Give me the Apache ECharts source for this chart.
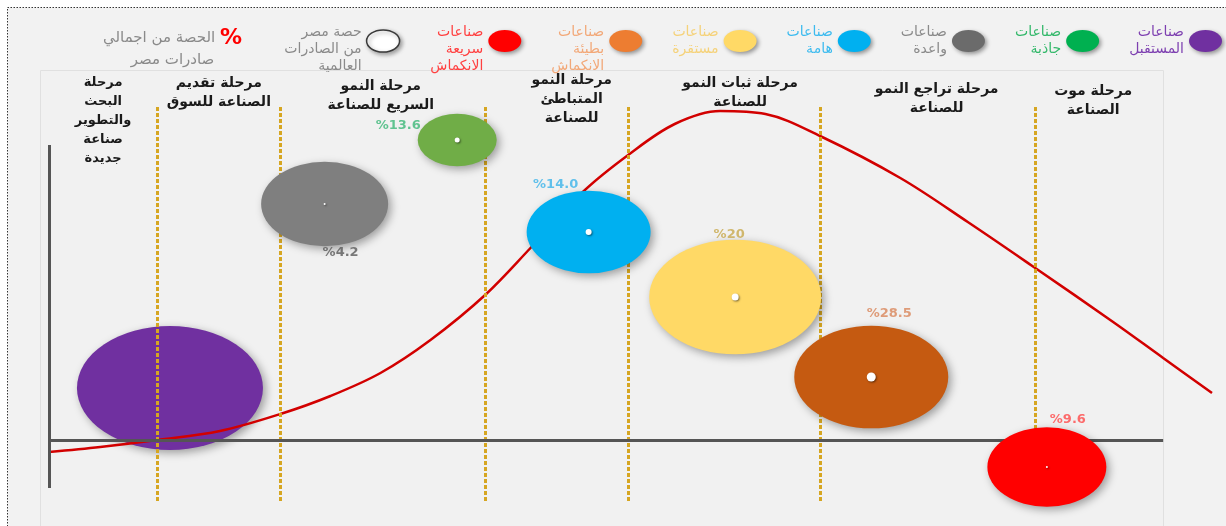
<!DOCTYPE html>
<html>
<head>
<meta charset="utf-8">
<script src="https://cdn.jsdelivr.net/npm/echarts@6/dist/echarts.min.js"></script>
<style>
  html, body { margin: 0; padding: 0; background: #fff; }
  #chart { width: 1226px; height: 526px; }
</style>
</head>
<body>
<div id="chart"></div>
<script>
// Industry groups, ordered by the life-cycle stage they sit in
const groups = [
  'صناعات المستقبل',
  'صناعات واعدة',
  'صناعات جاذبة',
  'صناعات هامة',
  'صناعات مستقرة',
  'صناعات بطيئة الانكماش',
  'صناعات سريعة الانكماش'
];
const groupLegendText = [
  'صناعات\nالمستقبل',
  'صناعات\nواعدة',
  'صناعات\nجاذبة',
  'صناعات\nهامة',
  'صناعات\nمستقرة',
  'صناعات\nبطيئة\nالانكماش',
  'صناعات\nسريعة\nالانكماش'
];
// Position of each group along the cycle (x) and its growth level (y)
const stageX = [10.4, 23.7, 35.1, 46.4, 59.0, 70.7, 85.8];
const growthY = [13, 59, 75, 52, 35.75, 15.75, -6.75];
// Relative bubble magnitude
const bubbleScale = [18.6, 12.7, 7.9, 12.4, 17.2, 15.4, 11.9];
// Egypt's share of world exports (white dot)
const worldShare = [0, 0.2, 0.5, 0.6, 0.7, 0.9, 0.2];
// Share of Egypt's total exports, as printed
const exportShareText = ['', '4.2', '13.6', '14.0', '20', '28.5', '9.6'];

// Life-cycle stages and their boundaries on the x scale
const stageNames = [
  'مرحلة\nالبحث\nوالتطوير\nصناعة\nجديدة',
  'مرحلة تقديم\nالصناعة للسوق',
  'مرحلة النمو\nالسريع للصناعة',
  'مرحلة النمو\nالمتباطئ\nللصناعة',
  'مرحلة ثبات النمو\nللصناعة',
  'مرحلة تراجع النمو\nللصناعة',
  'مرحلة موت\nالصناعة'
];
const stageBounds = [0, 9.3, 19.9, 37.5, 49.8, 66.3, 84.8, 95.8];

// Industry life-cycle curve
const curveX = [0, 4.4, 9.3, 14.7, 19.9, 24.2, 28.5, 32.8, 37.5, 41.4, 45.9, 49.8, 53.8, 57.7, 61.6, 66.3, 73.2, 79.0, 84.8, 91.5, 95.8, 100];
const curveY = [-3, -1.75, 0, 2.25, 6.5, 11, 16.75, 25, 36.25, 48, 62, 71.25, 79, 82.25, 81.5, 76, 65.5, 54.5, 43, 29.5, 20.5, 11.75];

const worldShareName = 'حصة مصر من الصادرات العالمية';
const worldShareLegend = 'حصة مصر\nمن الصادرات\nالعالمية';
const exportShareName = 'الحصة من اجمالي صادرات مصر';

// ---- styling ----
const AR_FONT = 'DejaVu Sans';
const ellipse = 'path://M0,33.33A50,33.33 0 1,1 100,33.33A50,33.33 0 1,1 0,33.33Z';
const bubbleColors = ['#7030a0', '#7f7f7f', '#70ad47', '#00b0f0', '#ffd966', '#c55a11', '#ff0000'];
const legendIconColors = ['#7030a0', '#6b6b6b', '#00b050', '#00b0f0', '#ffd966', '#ed7d31', '#ff0000'];
const legendTextColors = ['#7d3fb0', '#8a8a8a', '#33b86a', '#3dbbef', '#f5d27a', '#f2a878', '#ff4040'];
const shareLabelColors = [null, '#5a5a5a', '#3cb878', '#3cb4ea', '#c8a94c', '#d9865a', '#ff4a4a'];
const shareLabelOffsets = [null, [16, 49], [-59, -14], [-33, -47], [-6, -62], [18, -63], [21, -47]];
const stageLabelOffsets = [[0, 2], [0, 3], [-2, 6], [15, 0], [16, 3], [9, 9], [-6, 11]];

const dividerStyle = { color: '#d6a622', width: 3, type: [4, 2] };
const axisStyle = { color: '#555555', width: 3, type: 'solid' };

const shadow = { shadowBlur: 8, shadowColor: 'rgba(0,0,0,0.35)', shadowOffsetX: 3, shadowOffsetY: 3 };

const legendLookup = {};
groups.forEach((g, i) => { legendLookup[g] = groupLegendText[i]; });
legendLookup[worldShareName] = worldShareLegend;

const bubbleSeries = groups.map((g, i) => ({
  name: g,
  type: 'scatter',
  z: i === 0 ? 1 : 5,
  silent: true,
  symbol: ellipse,
  symbolSize: v => [v[2] * 10, v[2] * 10 / 1.5],
  data: [[stageX[i], growthY[i], bubbleScale[i]]],
  itemStyle: Object.assign({ color: bubbleColors[i], opacity: 1 }, shadow)
}));

const dotData = [];
groups.forEach((g, i) => {
  if (worldShare[i] > 0) dotData.push([stageX[i], growthY[i], worldShare[i]]);
});

const shareData = [];
groups.forEach((g, i) => {
  if (exportShareText[i]) {
    shareData.push({
      value: [stageX[i], growthY[i], exportShareText[i]],
      label: { offset: shareLabelOffsets[i], color: shareLabelColors[i] }
    });
  }
});

const dividerLines = stageBounds.slice(1, -1).map(b => [
  { coord: [b, 83.25], lineStyle: dividerStyle },
  { coord: [b, -15.25] }
]);
const axisLines = [
  [{ coord: [0, 73.75], lineStyle: axisStyle }, { coord: [0, -12] }],
  [{ coord: [0, 0], lineStyle: axisStyle }, { coord: [stageBounds[stageBounds.length - 1], 0] }]
];

const stageAreas = stageNames.map((n, i) => [
  {
    xAxis: stageBounds[i], yAxis: 95, name: n,
    label: { offset: stageLabelOffsets[i], fontSize: i === 0 ? 13 : 14 }
  },
  { xAxis: stageBounds[i + 1], yAxis: 85 }
]);

// left-to-right: white dot, then groups from the last stage back to the first
const legendNames = [worldShareName, groups[6], groups[5], groups[4], groups[3], groups[1], groups[2], groups[0]];
const legendItems = legendNames.map(name => {
  if (name === worldShareName) {
    return {
      name, icon: ellipse,
      itemStyle: { color: '#ffffff', borderColor: '#3a3a3a', borderWidth: 1.5, shadowBlur: 4, shadowColor: 'rgba(0,0,0,0.35)', shadowOffsetX: 2, shadowOffsetY: 2 },
      textStyle: { color: '#8a8a8a' }
    };
  }
  const i = groups.indexOf(name);
  return {
    name, icon: ellipse,
    itemStyle: { color: legendIconColors[i], shadowBlur: 4, shadowColor: 'rgba(0,0,0,0.4)', shadowOffsetX: 2, shadowOffsetY: 2 },
    textStyle: { color: legendTextColors[i] }
  };
});

// three-line captions hang a little lower than two-line ones
const legendCaption = name => {
  const text = legendLookup[name];
  return text.split('\n').length === 3 ? '\n' + text : text;
};

const chart = echarts.init(document.getElementById('chart'), null, { renderer: 'canvas' });
chart.setOption({
  animation: false,
  backgroundColor: '#ffffff',
  graphic: [
    {
      type: 'rect', z: -10, silent: true,
      shape: { x: 7.5, y: 7.5, width: 1400, height: 700 },
      style: { fill: '#f2f2f2', stroke: '#333', lineWidth: 1, lineDash: [1.5, 1.5] }
    },
    {
      type: 'rect', z: -9, silent: true,
      shape: { x: 40.5, y: 70.5, width: 1123, height: 500 },
      style: { fill: '#f1f1f1', stroke: '#e0e0e0', lineWidth: 1 }
    }
  ],
  grid: { left: 49, right: 14, top: 60, bottom: 6 },
  xAxis: { type: 'value', min: 0, max: 100, show: false },
  yAxis: { type: 'value', min: -20, max: 95, show: false },
  legend: [
    {
      right: 4, top: 7, padding: 0,
      orient: 'horizontal', align: 'right',
      itemGap: 30, itemWidth: 33, itemHeight: 22,
      selectedMode: false,
      data: legendItems,
      formatter: legendCaption,
      textStyle: { fontFamily: AR_FONT, fontSize: 14, lineHeight: 17 }
    },
    {
      left: 98, top: 27, padding: 0,
      itemWidth: 0, itemHeight: 14,
      selectedMode: false,
      data: [{ name: exportShareName, icon: 'none' }],
      formatter: () => '{t|الحصة من اجمالي} {p|%}\n{c|صادرات مصر}',
      textStyle: {
        color: '#8a8a8a', fontFamily: AR_FONT, fontSize: 15,
        rich: {
          t: { color: '#8a8a8a', fontFamily: AR_FONT, fontSize: 15, lineHeight: 22 },
          p: { color: '#ff0000', fontFamily: AR_FONT, fontSize: 22, fontWeight: 'bold', lineHeight: 22 },
          c: { color: '#8a8a8a', fontFamily: AR_FONT, fontSize: 15, lineHeight: 22, align: 'center' }
        }
      }
    }
  ],
  series: [
    {
      name: 'دورة حياة الصناعة',
      type: 'line',
      z: 2,
      silent: true,
      smooth: 0.35,
      showSymbol: false,
      data: curveX.map((x, i) => [x, curveY[i]]),
      lineStyle: { color: '#d20000', width: 2.5 },
      markLine: {
        silent: true,
        symbol: ['none', 'none'],
        label: { show: false },
        data: dividerLines.concat(axisLines)
      },
      markArea: {
        silent: true,
        itemStyle: { color: 'rgba(0,0,0,0)' },
        label: {
          show: true, position: 'insideTop', distance: 11,
          color: '#1a1a1a', fontFamily: AR_FONT, fontWeight: 'bold',
          fontSize: 14, lineHeight: 19, align: 'center'
        },
        data: stageAreas
      }
    }
  ].concat(bubbleSeries, [
    {
      name: worldShareName,
      type: 'scatter',
      z: 6,
      silent: true,
      symbol: 'circle',
      symbolSize: v => v[2] * 10,
      data: dotData,
      itemStyle: { color: '#ffffff', opacity: 1, shadowBlur: 2, shadowColor: 'rgba(0,0,0,0.5)', shadowOffsetX: 1, shadowOffsetY: 1 }
    },
    {
      name: exportShareName,
      type: 'scatter',
      z: 7,
      silent: true,
      symbolSize: 1,
      itemStyle: { color: 'rgba(0,0,0,0)' },
      data: shareData,
      label: {
        show: true, position: 'inside',
        fontFamily: AR_FONT, fontWeight: 'bold', fontSize: 13,
        formatter: p => '%' + p.value[2]
      }
    }
  ])
});
</script>
</body>
</html>
